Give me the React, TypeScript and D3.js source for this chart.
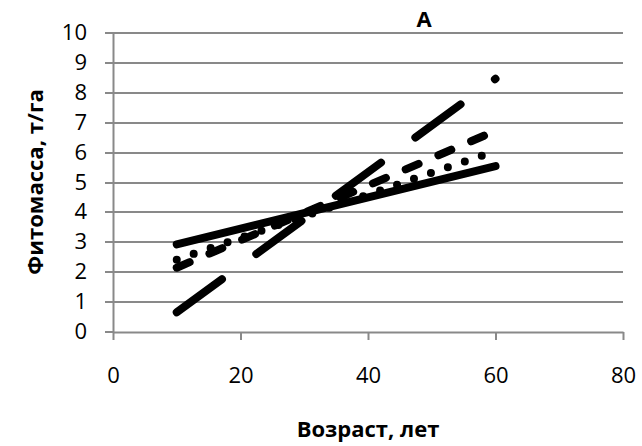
import React, { useEffect, useRef } from "react";
import * as d3 from "d3";

// trend lines, all run from age 10 to 60
const ages = [10, 60];
const solidSeries = [2.93, 5.55];
const longDashSeries = [0.66, 8.47];
const dashSeries = [2.15, 6.73];
const dotSeries = [2.42, 6.05];

const xTicks = [0, 20, 40, 60, 80];
const yTicks = [0, 1, 2, 3, 4, 5, 6, 7, 8, 9, 10];

const title = "A";
const xTitle = "Возраст, лет";
const yTitle = "Фитомасса, т/га";

export default function App() {
  const svgRef = useRef<SVGSVGElement>(null);

  useEffect(() => {
    const width = 642;
    const height = 446;
    const font = "'Open Sans', 'DejaVu Sans', sans-serif";
    const grey = "#898989";

    const svg = d3.select(svgRef.current).attr("width", width).attr("height", height);
    svg.selectAll("*").remove();

    const x = d3.scaleLinear().domain([0, 80]).range([113, 623]);
    const y = d3.scaleLinear().domain([0, 10]).range([332, 33]);

    // horizontal gridlines
    svg
      .append("g")
      .selectAll("line")
      .data(yTicks.slice(1))
      .enter()
      .append("line")
      .attr("x1", x(0))
      .attr("x2", x(80))
      .attr("y1", (d) => Math.round(y(d)))
      .attr("y2", (d) => Math.round(y(d)))
      .attr("stroke", grey)
      .attr("stroke-width", 2);

    const yAxis = d3
      .axisLeft(y)
      .tickValues(yTicks)
      .tickSize(8)
      .tickSizeOuter(0)
      .tickFormat(d3.format("d"));
    const yAxisG = svg.append("g").attr("transform", `translate(${x(0)},0)`);
    yAxis(yAxisG);
    yAxisG.selectAll(".tick").attr("transform", (d: any) => `translate(0,${Math.round(y(d))})`);

    const xAxis = d3
      .axisBottom(x)
      .tickValues(xTicks)
      .tickSize(8)
      .tickSizeOuter(0)
      .tickFormat(d3.format("d"));
    const xAxisG = svg.append("g").attr("transform", `translate(0,${y(0)})`);
    xAxis(xAxisG);

    [yAxisG, xAxisG].forEach((g) => {
      g.selectAll("path, line").attr("stroke", grey).attr("stroke-width", 2);
      g.selectAll("text")
        .attr("font-family", font)
        .attr("font-size", 22)
        .attr("fill", "#000");
    });
    yAxisG.selectAll("text").attr("x", -26).attr("dy", "0.34em");
    xAxisG.selectAll("text").attr("y", 51).attr("dy", 0);

    const lineGen = d3
      .line<[number, number]>()
      .x((d) => x(d[0]))
      .y((d) => y(d[1]));

    const series = [
      { values: solidSeries, dash: null },
      { values: longDashSeries, dash: "56,42.6" },
      { values: dashSeries, dash: "14,21.6" },
      { values: dotSeries, dash: "0,17.9" },
    ];

    series.forEach((s) => {
      const pts = ages.map((a, i) => [a, s.values[i]] as [number, number]);
      svg
        .append("path")
        .attr("d", lineGen(pts))
        .attr("fill", "none")
        .attr("stroke", "#000")
        .attr("stroke-width", 8)
        .attr("stroke-linecap", "round")
        .attr("stroke-dasharray", s.dash);
    });

    svg
      .append("text")
      .attr("x", 424)
      .attr("y", 27)
      .attr("text-anchor", "middle")
      .attr("font-family", font)
      .attr("font-weight", "bold")
      .attr("font-size", 22)
      .text(title);

    svg
      .append("text")
      .attr("x", 368)
      .attr("y", 437)
      .attr("text-anchor", "middle")
      .attr("font-family", font)
      .attr("font-weight", "bold")
      .attr("font-size", 22)
      .text(xTitle);

    svg
      .append("text")
      .attr("transform", "translate(43,182) rotate(-90)")
      .attr("text-anchor", "middle")
      .attr("font-family", font)
      .attr("font-weight", "bold")
      .attr("font-size", 22)
      .text(yTitle);
  }, []);

  return (
    <div style={{ position: "absolute", left: 0, top: 0 }}>
      <svg ref={svgRef}></svg>
    </div>
  );
}
